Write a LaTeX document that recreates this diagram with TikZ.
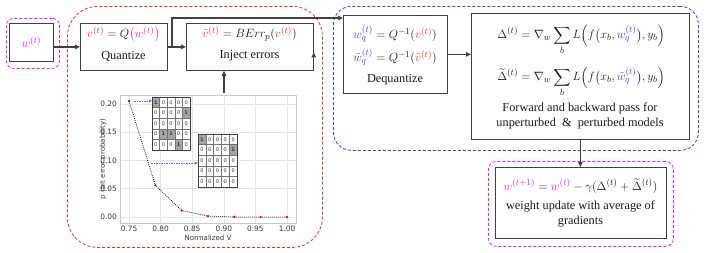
\documentclass[tikz,border=0pt]{standalone}
\usepackage{amsmath}
\usepackage{fontspec}
\setmainfont{Liberation Serif}
\newfontfamily\plotfont{DejaVu Sans}
\usetikzlibrary{arrows.meta,calc}
\definecolor{cmag}{RGB}{245,20,245}
\definecolor{cred}{RGB}{250,40,40}
\definecolor{cblue}{RGB}{60,60,235}
\definecolor{dgray}{RGB}{64,64,64}
\definecolor{lblue}{RGB}{90,120,220}
\definecolor{gridc}{RGB}{228,228,228}
\definecolor{framec}{RGB}{200,200,200}
\definecolor{cellg}{RGB}{165,165,165}
\begin{document}
\begin{tikzpicture}[x=1pt,y=-1pt,
  font=\fontsize{12.3}{15}\selectfont,
  box/.style={draw=dgray, line width=0.8pt, anchor=north west, inner sep=0pt},
  lbl/.style={inner sep=0pt, text=black!90, align=center},
  region/.style={line width=0.8pt, dash pattern=on 3pt off 2pt, anchor=north west, inner sep=0pt},
  arr/.style={draw=dgray, line width=1.3pt, -{Triangle[length=5pt,width=4.5pt]}},
  barr/.style={draw=lblue, line width=0.6pt, dash pattern=on 1.5pt off 1pt, -{Triangle[length=3pt,width=2.5pt]}},
  tick/.style={inner sep=0pt, font=\plotfont\fontsize{7.4}{8}\selectfont, text=black!80},
  axlbl/.style={inner sep=0pt, font=\plotfont\fontsize{7}{8}\selectfont, text=black!80},
  cell/.style={inner sep=0pt, font=\plotfont\fontsize{5}{5}\selectfont, text=black!80},
]
\useasboundingbox (0,0) rectangle (706,252);

% ---------- dashed regions ----------
\node[region, draw=cmag, rounded corners=7pt, minimum width=53pt, minimum height=50pt] (wreg) at (6,18) {};
\node[region, draw=cred, rounded corners=30pt, minimum width=255pt, minimum height=241pt] (redreg) at (67,6) {};
\node[region, draw=cblue, rounded corners=18pt, minimum width=365pt, minimum height=144pt] (bluereg) at (333,6) {};
\node[region, draw=cmag, rounded corners=8pt, minimum width=185pt, minimum height=85pt] (ureg) at (488,161) {};

% ---------- boxes ----------
\node[box, minimum width=44pt, minimum height=38pt] (wbox) at (9,23) {};
\node[box, minimum width=87pt, minimum height=47pt] (quant) at (80,23) {};
\node[box, minimum width=127pt, minimum height=47pt] (inj) at (186,23) {};
\node[box, minimum width=104pt, minimum height=78pt] (deq) at (343,15) {};
\node[box, minimum width=218pt, minimum height=126pt] (fwd) at (471,13) {};
\node[box, minimum width=171pt, minimum height=71pt] (upd) at (495,167) {};

% ---------- texts ----------
\node[lbl] (wt) at (wbox.center) {$\textcolor{cmag}{w^{(t)}}$};
\node[lbl] (qf) at (123.5,34) {$\textcolor{cred}{v^{(t)}} = Q\textcolor{cmag}{\bigl(w^{(t)}\bigr)}$};
\node[lbl] (qt) at (123.5,56) {Quantize};
\node[lbl] (if) at (249.5,34) {$\textcolor{cred}{\tilde{v}^{(t)}} = BErr_p(\textcolor{cred}{v^{(t)}})$};
\node[lbl] (it) at (249.5,56) {Inject errors};
\node[lbl] (df1) at (395,34) {$\textcolor{cblue}{w_q^{(t)}} = Q^{-1}(\textcolor{cred}{v^{(t)}})$};
\node[lbl] (df2) at (395,57) {$\textcolor{cblue}{\tilde{w}_q^{(t)}} = Q^{-1}(\textcolor{cred}{\tilde{v}^{(t)}})$};
\node[lbl] (dt) at (395,80) {Dequantize};
\node[lbl] (ff1) at (581,40) {$\displaystyle \Delta^{(t)} = \nabla_w \sum_b L\Bigl(f\bigl(x_b, \textcolor{cblue}{w_q^{(t)}}\bigr), y_b\Bigr)$};
\node[lbl] (ff2) at (581,82) {$\displaystyle \widetilde{\Delta}^{(t)} = \nabla_w \sum_b L\Bigl(f\bigl(x_b, \textcolor{cblue}{\tilde{w}_q^{(t)}}\bigr), y_b\Bigr)$};
\node[lbl] (ft) at (580,116) {Forward and backward pass for\\unperturbed \ \& \ perturbed models};
\node[lbl] (uf) at (580.5,186) {$\textcolor{cmag}{w^{(t+1)}} = \textcolor{cmag}{w^{(t)}} - \gamma(\Delta^{(t)} + \widetilde{\Delta}^{(t)})$};
\node[lbl] (ut) at (580.5,214) {weight update with average of\\gradients};

% ---------- plot ----------
\begin{scope}[shift={(129,217)}, x=632pt, y=566pt]
  \fill[white] (-0.0142,-0.0106) rectangle (0.2642,0.2155);
  \foreach \i in {0,0.05,...,0.26} \draw[gridc, line width=0.5pt] (\i,-0.0106) -- (\i,0.2155);
  \foreach \j in {0,0.05,...,0.21} \draw[gridc, line width=0.5pt] (-0.0142,\j) -- (0.2642,\j);
  \draw[framec, line width=0.6pt] (-0.0142,-0.0106) rectangle (0.2642,0.2155);
  \foreach \i/\t in {0/0.75,0.05/0.80,0.1/0.85,0.15/0.90,0.2/0.95,0.25/1.00}
    \node[tick, anchor=north] (xt\t) at ([yshift=-2.5pt]\i,-0.0106) {\t};
  \foreach \j/\t in {0/0.00,0.05/0.05,0.1/0.10,0.15/0.15,0.2/0.20}
    \node[tick, anchor=east] (yt\t) at ([xshift=-3pt]-0.0142,\j) {\t};
  \draw[black, line width=0.8pt, dash pattern=on 0.8pt off 1.2pt]
    (0,0.205) -- (0.0417,0.056) -- (0.0833,0.0115) -- (0.125,0.0015) -- (0.1667,0.0002) -- (0.2083,0) -- (0.25,0);
  \foreach \x/\y [count=\k] in {0/0.205,0.0417/0.056,0.0833/0.0115,0.125/0.0015,0.1667/0.0002,0.2083/0,0.25/0}
    \fill[red!90!black] (\x,\y) coordinate (pt\k) circle[radius=1.3pt];
\end{scope}
\node[axlbl] (xlab) at (208,238) {Normalized V};
\node[axlbl, rotate=90] (ylab) at (103,159) {p (bit error probability)};

% ---------- error matrices ----------
\newcommand\errmat[5]{% #1 name, #2 x, #3 y, #4 cell width, #5 rows
  \fill[white] (#2,#3) rectangle ++(5*#4,53);
  \foreach \row [count=\i] in {#5} {
    \foreach \v [count=\j] in \row {
      \ifnum\v=1
        \fill[cellg] ({#2+(\j-1)*#4},{#3+(\i-1)*10.6}) rectangle ++(#4,10.6);
        \node[cell, font=\plotfont\bfseries\fontsize{5}{5}\selectfont] (#1-\i-\j) at ({#2+(\j-0.5)*#4},{#3+(\i-0.5)*10.6}) {1};
      \else
        \node[cell] (#1-\i-\j) at ({#2+(\j-0.5)*#4},{#3+(\i-0.5)*10.6}) {0};
      \fi
    }
  }
  \foreach \k in {1,...,4} {
    \draw[black!55, line width=0.4pt] ({#2+\k*#4},#3) -- ++(0,53);
    \draw[black!55, line width=0.4pt] (#2,{#3+\k*10.6}) -- ++({5*#4},0);
  }
  \draw[black!75, line width=0.6pt] (#2,#3) rectangle ++(5*#4,53);
}
\errmat{ma}{152}{97}{7.6}{{1,0,0,0,0},{0,0,0,0,1},{0,0,0,0,0},{0,1,1,0,0},{0,0,0,1,0}}
\errmat{mb}{198}{134}{7.8}{{1,0,0,0,0},{0,0,0,0,1},{0,0,0,0,0},{0,0,0,0,0},{0,0,0,0,0}}

\coordinate (a1s) at (134,101);
\coordinate (a1e) at (152,101);
\coordinate (a2s) at (151,163);
\coordinate (a2e) at (198,163);
\draw[barr] (a1s) -- (a1e);
\draw[barr] (a2s) -- (a2e);

% ---------- arrows ----------
\coordinate (plottop) at (224,93);
\coordinate (br) at (172,47);
\draw[arr] (wbox.east |- quant.west) -- (quant.west);
\draw[arr] (quant.east) -- (inj.west);
\draw[arr] (br) |- ($(deq.north west)+(0,3)$);
\draw[arr] ($(inj.east)+(0,5.5)$) -- ($(inj.east)+(0,5.5)$ -| deq.west);
\draw[arr] (deq.east) -- (deq.east -| fwd.west);
\draw[arr] (fwd.south) -- (fwd.south |- upd.north);
\draw[arr] (plottop) -- (plottop |- inj.south);
\end{tikzpicture}
\end{document}
